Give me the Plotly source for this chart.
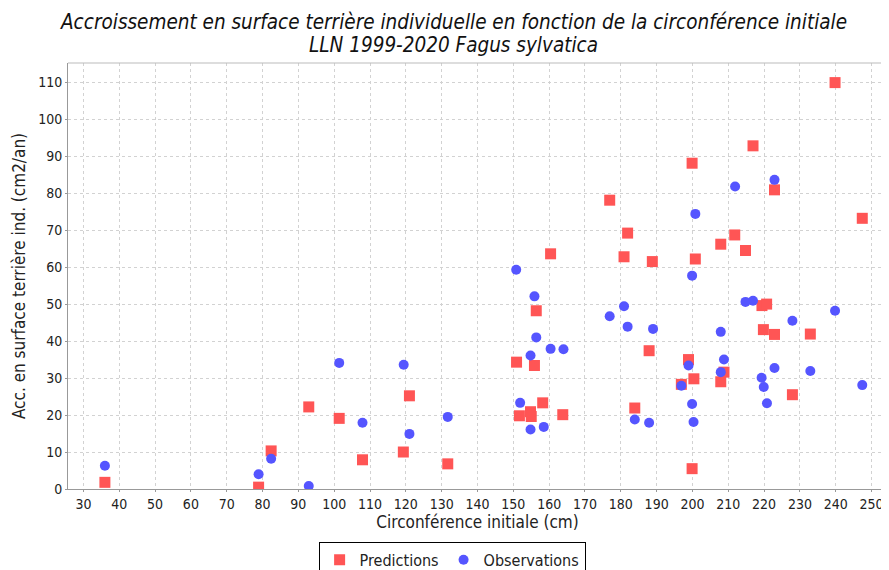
import plotly.graph_objects as go

# Predictions (red squares)
pred_x = [36.0, 78.9, 82.4, 92.9, 101.4, 107.9, 121.0, 119.3, 131.7, 150.9, 151.7, 154.8, 155.0,
          155.9, 156.4, 158.2, 160.4, 163.8, 176.9, 180.9, 181.9, 183.9, 187.9, 188.8, 196.9,
          198.9, 199.9, 199.9, 200.4, 200.8, 207.9, 207.9, 208.8, 211.8, 214.8, 216.9, 219.4,
          220.7, 219.8, 222.9, 222.9, 227.9, 232.9, 239.8, 247.4]
pred_y = [1.8, 0.5, 10.3, 22.2, 19.1, 7.9, 25.2, 10.0, 6.8, 34.3, 19.8, 20.9, 19.6,
          33.4, 48.2, 23.3, 63.6, 20.1, 78.1, 62.8, 69.2, 21.9, 37.4, 61.5, 28.3,
          35.0, 88.1, 5.5, 29.8, 62.2, 66.2, 29.0, 31.6, 68.7, 64.5, 92.8, 49.6,
          50.0, 43.1, 80.9, 41.8, 25.5, 41.9, 109.9, 73.2]

# Observations (blue circles)
obs_x = [36.0, 78.9, 82.4, 92.9, 101.4, 107.9, 119.4, 121.0, 131.7, 150.8, 151.9, 154.8, 154.8,
         155.9, 156.4, 158.5, 160.4, 164.0, 176.9, 180.9, 181.9, 183.9, 187.9, 189.0, 196.9,
         198.9, 199.9, 199.9, 200.3, 200.8, 207.9, 207.9, 208.8, 211.9, 214.8, 216.9, 219.3,
         220.8, 219.9, 222.9, 222.9, 227.9, 232.9, 239.8, 247.4]
obs_y = [6.3, 4.0, 8.2, 0.8, 34.1, 17.9, 33.6, 14.9, 19.5, 59.3, 23.3, 36.1, 16.1,
         52.1, 41.0, 16.8, 37.9, 37.8, 46.7, 49.4, 43.9, 18.8, 17.9, 43.3, 27.9,
         33.4, 57.7, 23.0, 18.1, 74.4, 42.5, 31.6, 35.0, 81.8, 50.6, 50.9, 30.1,
         23.2, 27.6, 83.6, 32.7, 45.5, 31.9, 48.2, 28.1]

x_ticks = list(range(30, 260, 10))
y_ticks = list(range(0, 120, 10))

title_lines = ["Accroissement en surface terrière individuelle en fonction de la circonférence initiale",
               "LLN 1999-2020 Fagus sylvatica"]

FONT = "DejaVu Sans Condensed, Liberation Sans Narrow, Roboto, sans-serif"

fig = go.Figure()
fig.add_trace(go.Scatter(
    x=pred_x, y=pred_y, mode="markers", name="Predictions",
    marker=dict(symbol="square", size=11, color="rgb(255,85,85)", line=dict(width=0)),
))
fig.add_trace(go.Scatter(
    x=obs_x, y=obs_y, mode="markers", name="Observations",
    marker=dict(symbol="circle", size=10, color="rgb(85,85,255)", line=dict(width=0)),
))

# page body has an 8px margin, so the figure is sized/offset to compensate
fig.update_layout(
    width=881, height=562,
    margin=dict(l=60, r=2, t=55, b=81, autoexpand=False),
    paper_bgcolor="white", plot_bgcolor="white",
    font=dict(family=FONT, size=14, color="#222"),
    xaxis=dict(
        range=[25.7, 254.3], tickvals=x_ticks, ticktext=[str(v) for v in x_ticks],
        showgrid=True, gridcolor="#d2d2d2", griddash="3px,3px", gridwidth=1,
        showline=True, linecolor="#999", linewidth=1, mirror=False,
        zeroline=False, ticks="outside", ticklen=2, tickcolor="#999",
        title=dict(text="Circonférence initiale (cm)", font=dict(size=17), standoff=4),
        tickfont=dict(size=14), automargin=False,
    ),
    yaxis=dict(
        range=[0, 115.2], tickvals=y_ticks, ticktext=[str(v) for v in y_ticks],
        showgrid=True, gridcolor="#d2d2d2", griddash="3px,3px", gridwidth=1,
        showline=True, linecolor="#999", linewidth=1,
        zeroline=False, ticks="outside", ticklen=2, tickcolor="#999",
        title=dict(text="Acc. en surface terrière ind. (cm2/an)", font=dict(size=17), standoff=8),
        tickfont=dict(size=14), automargin=False,
    ),
    legend=dict(
        orientation="h", x=0.469, xanchor="center", y=-0.124, yanchor="top",
        bordercolor="black", borderwidth=1, bgcolor="white",
        font=dict(size=16), itemwidth=30, tracegroupgap=0,
    ),
    showlegend=True,
)
fig.add_annotation(text="<i>" + title_lines[0] + "</i>", xref="paper", yref="paper",
                   x=0.471, y=1.096, xanchor="center", yanchor="middle", showarrow=False,
                   font=dict(size=20.5, color="#111"))
fig.add_annotation(text="<i>" + title_lines[1] + "</i>", xref="paper", yref="paper",
                   x=0.471, y=1.042, xanchor="center", yanchor="middle", showarrow=False,
                   font=dict(size=20.5, color="#111"))
# top border of plot area
fig.add_shape(type="line", xref="paper", yref="paper", x0=0, x1=1, y0=1, y1=1,
              line=dict(color="#bbb", width=1))

fig.write_html("out.html")
